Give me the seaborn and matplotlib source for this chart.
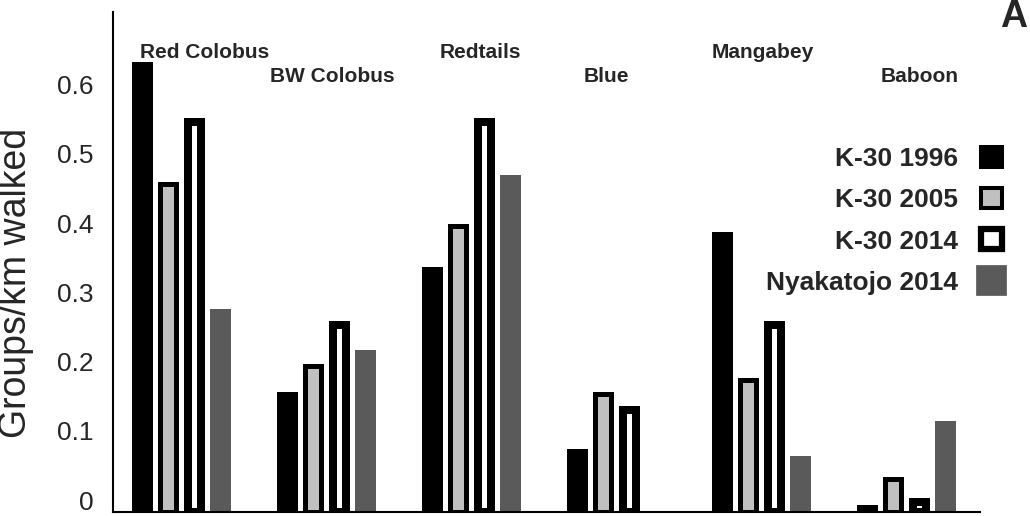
import matplotlib
matplotlib.use('Agg')
import matplotlib.pyplot as plt
import matplotlib.transforms as mtransforms
from matplotlib.patches import Patch
import seaborn as sns
import pandas as pd

# data
species = ['Red Colobus', 'BW Colobus', 'Redtails', 'Blue', 'Mangabey', 'Baboon']
surveys = ['K-30 1996', 'K-30 2005', 'K-30 2014', 'Nyakatojo 2014']
k30_1996 = [0.65, 0.173, 0.354, 0.091, 0.405, 0.010]
k30_2005 = [0.474, 0.211, 0.413, 0.171, 0.191, 0.048]
k30_2014 = [0.563, 0.270, 0.563, 0.147, 0.270, 0.015]
nyakatojo_2014 = [0.293, 0.234, 0.487, 0.0, 0.081, 0.131]
yticks = [0, 0.1, 0.2, 0.3, 0.4, 0.5, 0.6]
ytick_labels = ['0', '0.1', '0.2', '0.3', '0.4', '0.5', '0.6']

colors = ['#000000', '#c0c0c0', '#ffffff', '#5a5a5a']
edge_px = [0, 5, 8, 0]

rows = []
for name, vals in zip(surveys, [k30_1996, k30_2005, k30_2014, nyakatojo_2014]):
    for sp, v in zip(species, vals):
        rows.append({'species': sp, 'survey': name, 'rate': v})
df = pd.DataFrame(rows)

sns.set_style('white')
plt.rcParams['font.family'] = ['Liberation Sans', 'DejaVu Sans']

fig = plt.figure(figsize=(10.3, 5.16), dpi=100)
ax = fig.add_axes([113 / 1030, 4 / 516, 867 / 1030, 500 / 516])

sns.barplot(data=df, x='species', y='rate', hue='survey', hue_order=surveys,
            order=species, palette=colors, saturation=1, width=0.717, gap=0,
            legend=False, ax=ax)

# one group = 145 px, outer bar width 21 px
px = 1 / 145.0
for k, cont in enumerate(ax.containers):
    for bar in cont:
        c = bar.get_x() + bar.get_width() / 2
        w = (21 - edge_px[k]) * px
        bar.set_x(c - w / 2)
        bar.set_width(w)
        if edge_px[k] > 0:
            bar.set_edgecolor('black')
            bar.set_linewidth(edge_px[k] * 0.72)
        else:
            bar.set_linewidth(0)

ax.set_xlim(-0.472, 5.507)
ax.set_ylim(0, 0.7225)
ax.set_xticks([])
ax.set_xlabel('')
ax.set_yticks(yticks)
ax.set_yticklabels(ytick_labels, fontsize=19)
ax.tick_params(axis='y', length=0, pad=14)

# labels sit a bit above their gridline in the original
off = mtransforms.ScaledTranslation(0, 0.12, fig.dpi_scale_trans)
for lab in ax.get_yticklabels():
    lab.set_transform(lab.get_transform() + off)

for side in ['top', 'right']:
    ax.spines[side].set_visible(False)
for side in ['left', 'bottom']:
    ax.spines[side].set_color('black')
    ax.spines[side].set_linewidth(1.5)

ax.set_ylabel('Groups/km walked', fontsize=27)
ax.yaxis.set_label_coords(-0.091, 0.459)

# species names above the groups, staggered
dx = [0.16, 0.04, 0.06, -0.07, 0.01, 0.09]
for i, sp in enumerate(species):
    yy = 0.656 if i % 2 == 0 else 0.621
    ax.text(i + dx[i], yy, sp, ha='center', va='baseline',
            fontsize=15, fontweight='bold')

handles = [
    Patch(facecolor='#000000', edgecolor='#000000', linewidth=2.9),
    Patch(facecolor='#c0c0c0', edgecolor='#000000', linewidth=2.9),
    Patch(facecolor='#ffffff', edgecolor='#000000', linewidth=4.5),
    Patch(facecolor='#5a5a5a', edgecolor='#5a5a5a', linewidth=7.0),
]
fig.legend(handles, surveys, loc='upper right',
           bbox_to_anchor=(1002 / 1030, 1 - 147 / 516),
           bbox_transform=fig.transFigure, frameon=False, markerfirst=False,
           prop={'size': 19, 'weight': 'bold'}, handlelength=0.8,
           handleheight=0.8, handletextpad=0.85, labelspacing=0.64,
           borderpad=0, borderaxespad=0)

fig.text(1014 / 1030, 1 - 17 / 516, 'A', ha='center', va='center',
         fontsize=27, fontweight='bold')

fig.savefig('out.png', dpi=100)
